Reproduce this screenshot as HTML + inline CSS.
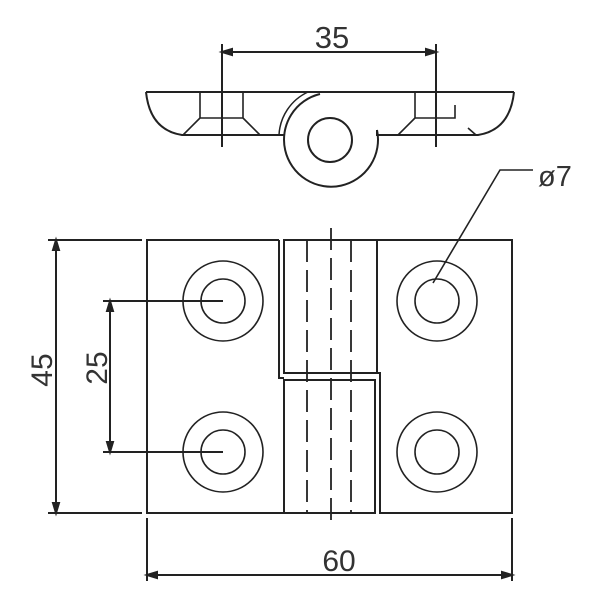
<!DOCTYPE html>
<html><head><style>html,body{margin:0;padding:0;background:#fff;}svg{display:block}</style></head>
<body>
<svg width="600" height="600" viewBox="0 0 600 600" xmlns="http://www.w3.org/2000/svg" font-family="Liberation Sans, sans-serif" fill="none" stroke="#222" stroke-width="2">
<!-- 35 dim -->
<line x1="222" y1="44" x2="222" y2="147"/>
<line x1="436" y1="44" x2="436" y2="147"/>
<line x1="222" y1="52" x2="436" y2="52"/>
<path d="M222,52 l10,-3 v6 z M436,52 l-10,-3 v6 z" fill="#222"/>
<text x="332" y="48" font-size="31" fill="#333" stroke="none" text-anchor="middle">35</text>
<!-- top view -->
<line x1="146" y1="92" x2="514" y2="92"/>
<path d="M146,92 Q150,130 182,135 L284,135"/>
<path d="M514,92 Q510,130 478,135 L376,135"/>
<path d="M200,92 V118 H243 V92 M200,118 L183,135 M243,118 L260,135" stroke-width="1.6"/>
<path d="M415,92 V118 H455 V105 M415,118 L398,135 M468,128 L476,135" stroke-width="1.6"/>
<path d="M320,94 A47,47 0 1 0 377,130" />
<path d="M377,130 V135" />
<path d="M279,135 A50,50 0 0 1 308,92" stroke-width="1.5"/>
<circle cx="330" cy="140" r="22"/>
<!-- main view -->
<path d="M279,240 H147 V513 H284 V380 H375 V513 H284" stroke-width="2"/>
<path d="M279,240 V378 H284"/>
<path d="M284,240 H512 V513 H380 V373 H284 Z M377,240 V373"/>
<g stroke-dasharray="22,8" stroke-width="1.8">
<line x1="307" y1="240" x2="307" y2="513"/>
<line x1="351" y1="240" x2="351" y2="513"/>
<line x1="331" y1="228" x2="331" y2="528"/>
</g>
<g stroke-width="1.6">
<circle cx="223" cy="301" r="40"/><circle cx="223" cy="301" r="22"/>
<circle cx="223" cy="452" r="40"/><circle cx="223" cy="452" r="22"/>
<circle cx="437" cy="301" r="40"/><circle cx="437" cy="301" r="22"/>
<circle cx="437" cy="452" r="40"/><circle cx="437" cy="452" r="22"/>
</g>
<!-- 45 dim -->
<line x1="48" y1="240" x2="142" y2="240"/>
<line x1="48" y1="513" x2="142" y2="513"/>
<line x1="56" y1="240" x2="56" y2="513"/>
<path d="M56,240 l-3,10 h6 z M56,513 l-3,-10 h6 z" fill="#222"/>
<text transform="translate(52,370) rotate(-90)" font-size="30" fill="#333" stroke="none" text-anchor="middle">45</text>
<!-- 25 dim -->
<line x1="103" y1="301" x2="223" y2="301"/>
<line x1="103" y1="452" x2="223" y2="452"/>
<line x1="110" y1="301" x2="110" y2="452"/>
<path d="M110,301 l-3,10 h6 z M110,452 l-3,-10 h6 z" fill="#222"/>
<text transform="translate(107,368) rotate(-90)" font-size="30" fill="#333" stroke="none" text-anchor="middle">25</text>
<!-- 60 dim -->
<line x1="147" y1="518" x2="147" y2="581"/>
<line x1="512" y1="518" x2="512" y2="581"/>
<line x1="147" y1="575" x2="512" y2="575"/>
<path d="M147,575 l10,-3 v6 z M512,575 l-10,-3 v6 z" fill="#222"/>
<text x="339" y="571" font-size="30" fill="#333" stroke="none" text-anchor="middle">60</text>
<!-- phi7 leader -->
<path d="M433,283 L500,170 H533" stroke-width="1.6"/>
<text x="538" y="186" font-size="29" fill="#333" stroke="none">ø7</text>
</svg>
</body></html>
